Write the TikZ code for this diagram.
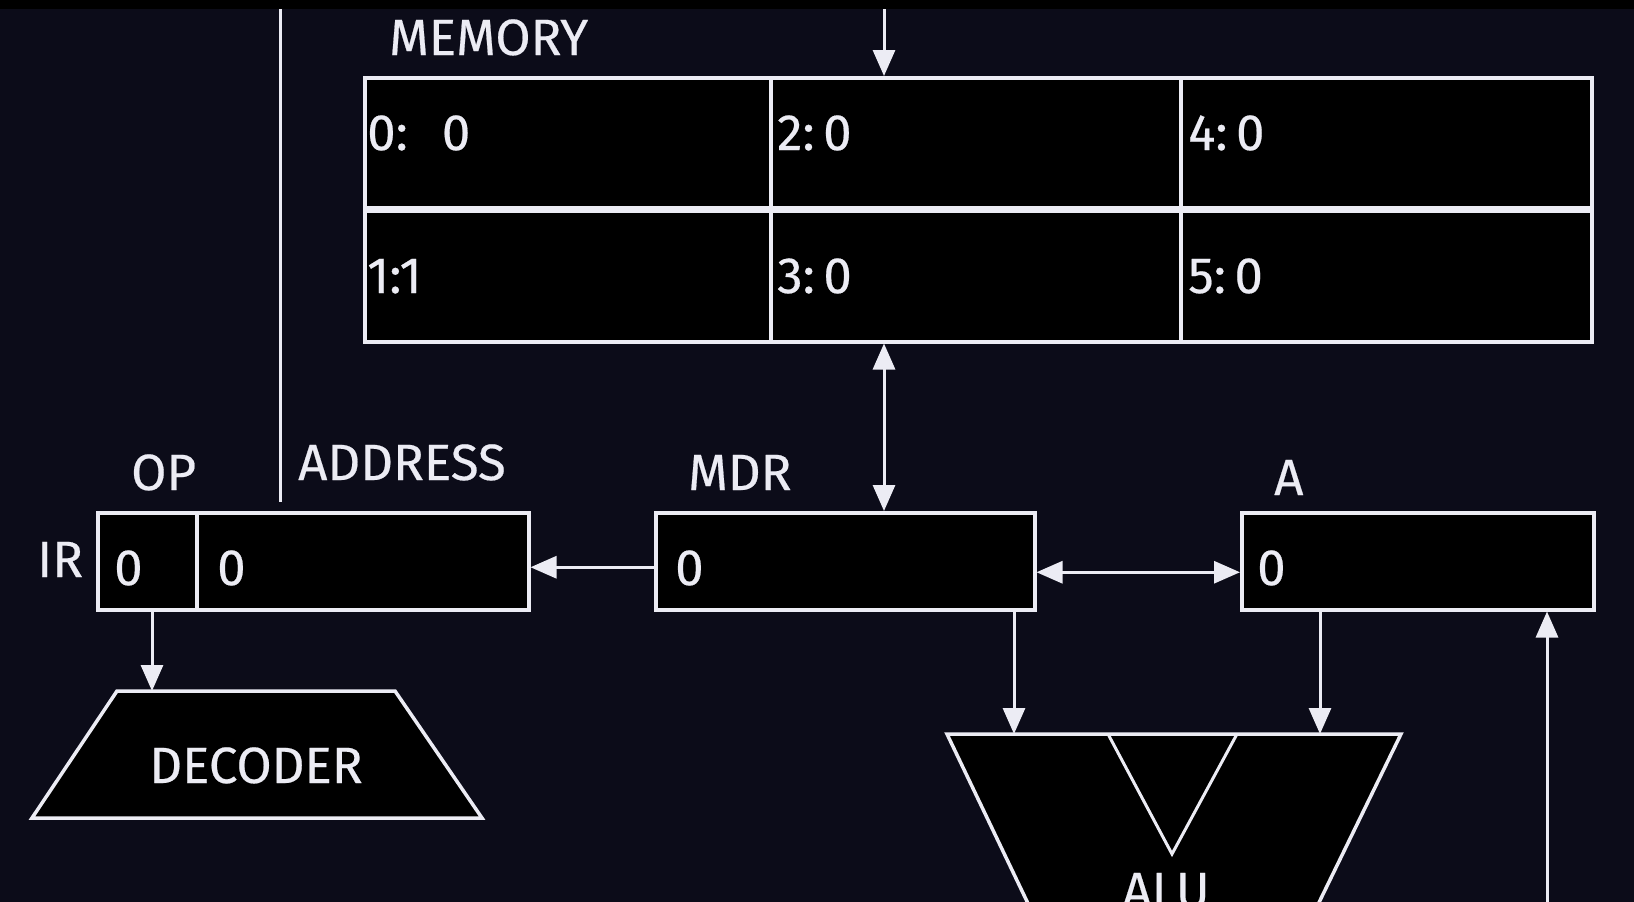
\documentclass[tikz,border=0pt]{standalone}
\usepackage{fontspec}
\setmainfont{Fira Sans}[FakeBold=0.4]
\usetikzlibrary{arrows.meta}
\definecolor{bg}{HTML}{0C0C19}
\definecolor{fg}{HTML}{ECECF4}
\begin{document}
\begin{tikzpicture}[x=1pt,y=-1pt,
  box/.style={draw=fg, fill=black, line width=3.5pt, rectangle, inner sep=0pt, anchor=north west},
  lbl/.style={text=fg, font=\fontsize{51pt}{60pt}\selectfont, inner sep=0pt, anchor=base west},
  wire/.style={draw=fg, line width=3pt},
  arr/.style={wire, -{Triangle[length=26pt,width=22pt]}},
  darr/.style={wire, {Triangle[length=26pt,width=22pt]}-{Triangle[length=26pt,width=22pt]}}]
\useasboundingbox (0,0) rectangle (1634,902);
\fill[bg] (0,0) rectangle (1634,902);
\fill[black] (0,0) rectangle (1634,9);

% memory
\node[box, minimum width=1227pt, minimum height=264pt] (mem) at (363,76) {};
\draw[fg, line width=3.5pt] (771,76) -- (771,340);
\draw[fg, line width=3.5pt] (1181,76) -- (1181,340);
\draw[fg, line width=7pt] (mem.west) -- (mem.east);
\node[lbl] (memlbl) at (389,55) {MEMORY};
\node[lbl] (m0) at (367,150) {0:\hspace{34pt}0};
\node[lbl] (m2) at (777,150) {2:\,0};
\node[lbl] (m4) at (1188,150) {4:\,0};
\node[lbl] (m1) at (367,293) {1:1};
\node[lbl] (m3) at (777,293) {3:\,0};
\node[lbl] (m5) at (1188,293) {5:\,0};

% registers
\node[box, minimum width=99pt, minimum height=97pt] (irop) at (96,511) {};
\node[box, minimum width=332pt, minimum height=97pt] (iraddr) at (195,511) {};
\node[box, minimum width=379pt, minimum height=97pt] (mdr) at (654,511) {};
\node[box, minimum width=352pt, minimum height=97pt] (a) at (1240,511) {};

\node[lbl] (irlbl) at (37,577) {IR};
\node[lbl] (oplbl) at (131,490) {OP};
\node[lbl] (addrlbl) at (298,480) {ADDRESS};
\node[lbl] (mdrlbl) at (688,490) {MDR};
\node[lbl] (albl) at (1274,495) {A};
\node[lbl] (iropv) at (114,585) {0};
\node[lbl] (iraddrv) at (217,585) {0};
\node[lbl] (mdrv) at (675,585) {0};
\node[lbl] (av) at (1257,585) {0};

% decoder
\draw[fg, fill=black, line width=3.5pt, line join=miter] (117,691) -- (395,691) -- (482,818) -- (32,818) -- cycle;
\node[lbl, anchor=base] (dec) at (256,783) {DECODER};

% ALU
\begin{scope}
\clip (0,0) rectangle (1634,902);
\draw[fg, fill=black, line width=3.5pt, line join=miter] (947,734) -- (1401,734) -- (1291,960) -- (1055,960) -- cycle;
\draw[fg, line width=3pt, line join=miter] (1108,734) -- (1172,854) -- (1237,734);
\node[lbl, anchor=base] (alu) at (1166,908) {ALU};
\end{scope}

% connectors
\coordinate (vt) at (280,9);
\coordinate (vb) at (280,502);
\draw[wire] (vt) -- (vb);

\coordinate (topin) at (884,9);
\draw[arr] (topin) -- (topin |- mem.north);
\draw[darr] (topin |- mem.south) -- (topin |- mdr.north);

\draw[arr] ([yshift=-6pt]mdr.west) -- ([yshift=-6pt]mdr.west -| iraddr.east);
\draw[darr] ([yshift=-11pt]mdr.east) -- ([yshift=-11pt]mdr.east -| a.west);

\coordinate (decin) at (152,691);
\draw[arr] (irop.south -| decin) -- (decin);

\coordinate (alul) at (1014,734);
\coordinate (alur) at (1320,734);
\draw[arr] (mdr.south -| alul) -- (alul);
\draw[arr] (a.south -| alur) -- (alur);

\coordinate (fb) at (1547,902);
\draw[arr] (fb) -- (fb |- a.south);
\end{tikzpicture}
\end{document}
